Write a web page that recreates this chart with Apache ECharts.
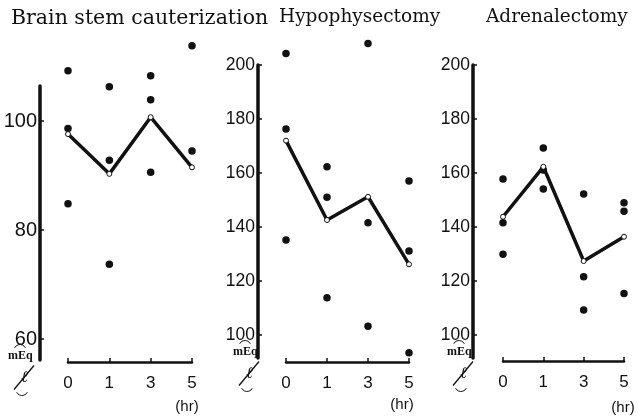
<!DOCTYPE html>
<html>
<head>
<meta charset="utf-8">
<script src="https://cdn.jsdelivr.net/npm/echarts@6/dist/echarts.min.js"></script>
<style>
  html, body { margin: 0; padding: 0; background: #fff; }
  #chart { width: 640px; height: 419px; }
</style>
</head>
<body>
<div id="chart"></div>
<script>
// Sampling times (hr)
const hours = ['0', '1', '3', '5'];

// Panel titles
const titles = ['Brain stem cauterization', 'Hypophysectomy', 'Adrenalectomy'];

// Y tick labels per panel (mEq/l)
const brainTicks = [60, 80, 100];
const hypoTicks = [100, 120, 140, 160, 180, 200];
const adrenTicks = [100, 120, 140, 160, 180, 200];

// Individual animals, one list per sampling time
const brainDots = [[109.2, 98.6, 84.8], [106.3, 92.8, 73.7], [108.3, 103.9, 90.6], [113.8, 94.5]];
const hypoDots = [[204.3, 176.3, 135.2], [162.3, 151.0, 113.8], [208.0, 141.6, 103.3], [157.0, 131.1, 93.4]];
const adrenDots = [[157.8, 141.6, 129.9], [169.3, 161.1, 154.1], [152.2, 121.6, 109.3], [149.0, 145.8, 115.4]];

// Group means
const brainMean = [97.6, 90.3, 100.7, 91.5];
const hypoMean = [172.0, 142.6, 151.2, 126.2];
const adrenMean = [143.8, 162.3, 127.4, 136.4];

const panels = [
  { ticks: brainTicks, dots: brainDots, mean: brainMean,
    grid: { left: 68, top: 86, width: 124, height: 274 }, min: 56.15, max: 106.42,
    yOffset: 28, xOffset: 2, labelSize: 20, title: { left: 6, size: 20.5 } },
  { ticks: hypoTicks, dots: hypoDots, mean: hypoMean,
    grid: { left: 286, top: 65, width: 123, height: 293 }, min: 91.5, max: 200,
    yOffset: 28, xOffset: 4, labelSize: 17.5, title: { left: 274, size: 18.5 } },
  { ticks: adrenTicks, dots: adrenDots, mean: adrenMean,
    grid: { left: 503, top: 65, width: 121, height: 293 }, min: 91.5, max: 200,
    yOffset: 30, xOffset: 3, labelSize: 17.5, title: { left: 481, size: 18.5 } }
];

const narrow = "'Liberation Sans Narrow', 'Arial Narrow', 'Liberation Sans', sans-serif";
const ink = '#111';

const option = {
  backgroundColor: '#fff',
  animation: false,
  title: panels.map((p, i) => ({
    text: titles[i],
    left: p.title.left,
    top: 3,
    textStyle: { fontFamily: "'DejaVu Serif', serif", fontWeight: 'normal', fontSize: p.title.size, color: ink }
  })),
  grid: panels.map(p => Object.assign({ containLabel: false }, p.grid)),
  xAxis: panels.map((p, i) => ({
    type: 'category',
    gridIndex: i,
    data: hours,
    boundaryGap: false,
    offset: p.xOffset,
    axisLine: { lineStyle: { color: ink, width: 2.5 } },
    axisTick: { show: true, inside: true, length: 4, alignWithLabel: true, lineStyle: { color: ink, width: 1.5 } },
    axisLabel: { margin: 13, fontFamily: 'Liberation Sans, sans-serif', fontSize: 17, color: ink },
    splitLine: { show: false }
  })),
  yAxis: panels.map((p, i) => ({
    type: 'value',
    gridIndex: i,
    min: p.min,
    max: p.max,
    offset: p.yOffset,
    axisLine: { show: true, lineStyle: { color: ink, width: 3.5 } },
    axisTick: { show: true, inside: true, length: 4, customValues: p.ticks, lineStyle: { color: ink, width: 1.5 } },
    axisLabel: { margin: 3, customValues: p.ticks, fontFamily: narrow, fontSize: p.labelSize, color: ink },
    splitLine: { show: false }
  })),
  graphic: [],
  series: []
};

panels.forEach((p, i) => {
  const pts = [];
  p.dots.forEach((vals, k) => vals.forEach(v => pts.push([hours[k], v])));
  option.series.push({
    type: 'scatter',
    xAxisIndex: i, yAxisIndex: i,
    data: pts,
    clip: false,
    symbol: 'circle',
    symbolSize: 7.5,
    itemStyle: { color: ink, opacity: 1 },
    z: 2
  });
  option.series.push({
    type: 'line',
    xAxisIndex: i, yAxisIndex: i,
    data: p.mean.map((v, k) => [hours[k], v]),
    clip: false,
    symbol: 'circle',
    symbolSize: 5,
    showSymbol: true,
    lineStyle: { color: ink, width: 3.5 },
    itemStyle: { color: '#fff', borderColor: ink, borderWidth: 1, opacity: 1 },
    z: 3
  });
});

// Unit label (mEq / l) under each y axis, and the "(hr)" caption at each time axis end
const unitPos = [[22, 352], [247, 348], [461, 348]];
const hrPos = [[187, 407], [402, 405], [623, 408]];
unitPos.forEach(([x, y]) => {
  option.graphic.push({
    type: 'group', left: x - 14, top: y - 10,
    children: [
      { type: 'arc', shape: { cx: 12, cy: 5, r: 6, startAngle: Math.PI * 1.15, endAngle: Math.PI * 1.85 }, style: { stroke: ink, lineWidth: 1, fill: null } },
      { type: 'text', x: 0, y: 4, style: { text: 'mEq', font: 'bold 12px Liberation Serif', fill: ink } },
      { type: 'line', shape: { x1: 6, y1: 44, x2: 26, y2: 20 }, style: { stroke: ink, lineWidth: 1.3 } },
      { type: 'text', x: 13, y: 24, style: { text: 'ℓ', font: 'italic 16px DejaVu Serif', fill: ink } },
      { type: 'arc', shape: { cx: 14, cy: 44, r: 6, startAngle: Math.PI * 0.15, endAngle: Math.PI * 0.85 }, style: { stroke: ink, lineWidth: 1, fill: null } }
    ]
  });
});
hrPos.forEach(([x, y]) => {
  option.graphic.push({
    type: 'text', x: x, y: y,
    style: { text: '(hr)', font: '15px Liberation Sans', fill: ink, textAlign: 'center', textVerticalAlign: 'middle' }
  });
});

const chart = echarts.init(document.getElementById('chart'), null, { renderer: 'canvas' });
chart.setOption(option);
</script>
</body>
</html>
